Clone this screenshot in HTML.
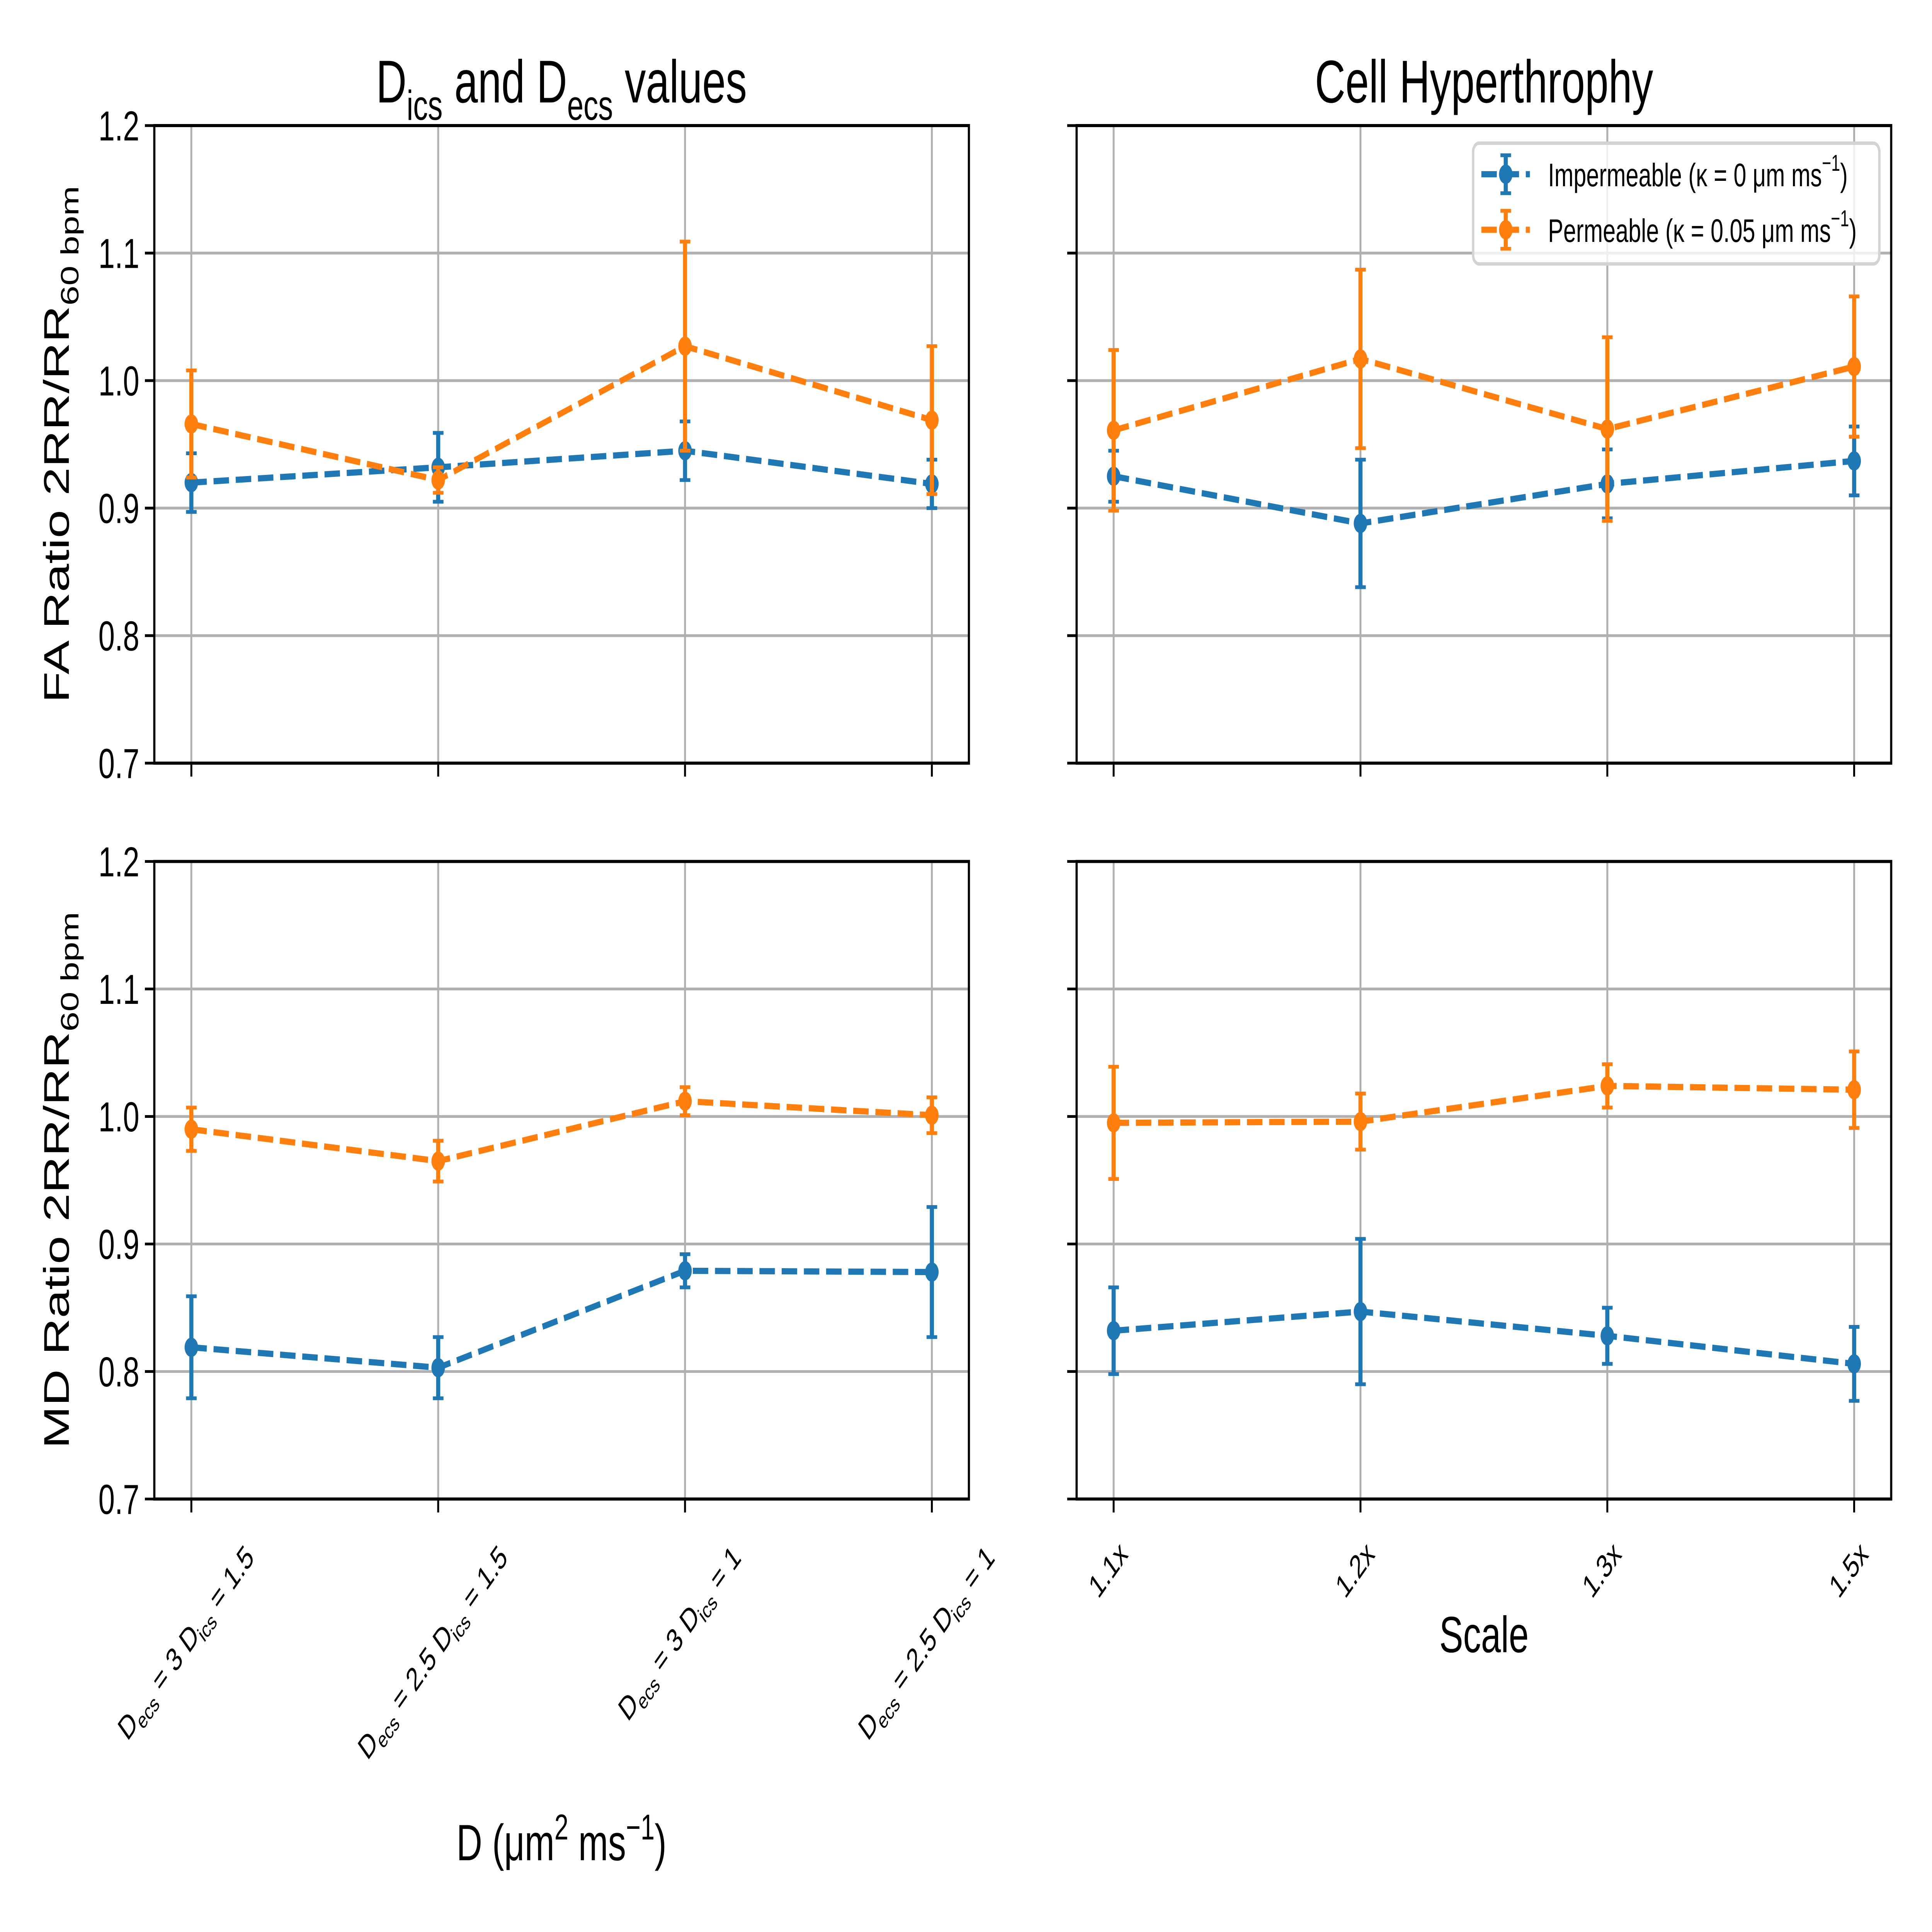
<!DOCTYPE html>
<html><head><meta charset="utf-8"><style>
html,body{margin:0;padding:0;background:#fff;overflow:hidden;width:100vw;height:100vh;}
svg{display:block;width:100vw;height:100vh;font-family:"Liberation Sans","DejaVu Sans",sans-serif;}
</style></head><body>
<svg id="fig" xmlns="http://www.w3.org/2000/svg" viewBox="0 0 8000 5600" preserveAspectRatio="none">
<rect x="0" y="0" width="8000" height="5600" fill="#fff"/>
<text x="2325" y="297" font-size="175" text-anchor="middle">D<tspan font-size="122" dy="50">ics</tspan><tspan dy="-50"> and D</tspan><tspan font-size="122" dy="50">ecs</tspan><tspan dy="-50"> values</tspan></text>
<text x="6145" y="297" font-size="175" text-anchor="middle">Cell Hyperthrophy</text>
<text transform="translate(285,1288) rotate(-90)" font-size="148" text-anchor="middle">FA Ratio 2RR/RR<tspan font-size="104" dy="40">60 bpm</tspan></text>
<text transform="translate(285,3421) rotate(-90)" font-size="148" text-anchor="middle">MD Ratio 2RR/RR<tspan font-size="104" dy="40">60 bpm</tspan></text>
<text x="2325" y="5392" font-size="148" text-anchor="middle">D (μm<tspan font-size="104" dy="-60">2</tspan><tspan dy="60"> ms</tspan><tspan font-size="104" dy="-60">−1</tspan><tspan dy="60">)</tspan></text>
<text x="6145" y="4789" font-size="148" text-anchor="middle">Scale</text>
<g id="plots"></g>
<g id="legend"></g>
</svg>
<script>
const catsLeft = ["D_ecs = 3 D_ics = 1.5","D_ecs = 2.5 D_ics = 1.5","D_ecs = 3 D_ics = 1","D_ecs = 2.5 D_ics = 1"];
const catsRight = ["1.1x","1.2x","1.3x","1.5x"];
const yTicks = [0.7,0.8,0.9,1.0,1.1,1.2];
const yTickLabels = ["0.7","0.8","0.9","1.0","1.1","1.2"];
const faDBlue = [0.920,0.932,0.945,0.919];
const faDBlueErr = [0.023,0.027,0.023,0.019];
const faDOrange = [0.966,0.922,1.027,0.969];
const faDOrangeErr = [0.042,0.010,0.082,0.058];
const faSBlue = [0.925,0.888,0.919,0.937];
const faSBlueErr = [0.020,0.050,0.027,0.027];
const faSOrange = [0.961,1.017,0.962,1.011];
const faSOrangeErr = [0.063,0.070,0.072,0.055];
const mdDBlue = [0.819,0.803,0.879,0.878];
const mdDBlueErr = [0.040,0.024,0.013,0.051];
const mdDOrange = [0.990,0.965,1.012,1.001];
const mdDOrangeErr = [0.017,0.016,0.011,0.014];
const mdSBlue = [0.832,0.847,0.828,0.806];
const mdSBlueErr = [0.034,0.057,0.022,0.029];
const mdSOrange = [0.995,0.996,1.024,1.021];
const mdSOrangeErr = [0.044,0.022,0.017,0.030];

const NS="http://www.w3.org/2000/svg";
const BLUE="#1f77b4", ORANGE="#ff7f0e";
function mk(tag, attrs, parent){const e=document.createElementNS(NS,tag);for(const k in attrs)e.setAttribute(k,attrs[k]);parent.appendChild(e);return e;}
const plots=document.getElementById('plots');

const panels=[
 {name:'fa-dics',x0:639,y0:364,blue:faDBlue,be:faDBlueErr,orange:faDOrange,oe:faDOrangeErr,cats:catsLeft,ylab:true,xlab:false,rot:'left'},
 {name:'fa-scale',x0:4458,y0:364,blue:faSBlue,be:faSBlueErr,orange:faSOrange,oe:faSOrangeErr,cats:catsRight,ylab:false,xlab:false,rot:'right'},
 {name:'md-dics',x0:639,y0:2497,blue:mdDBlue,be:mdDBlueErr,orange:mdDOrange,oe:mdDOrangeErr,cats:catsLeft,ylab:true,xlab:true,rot:'left'},
 {name:'md-scale',x0:4458,y0:2497,blue:mdSBlue,be:mdSBlueErr,orange:mdSOrange,oe:mdSOrangeErr,cats:catsRight,ylab:false,xlab:true,rot:'right'}
];
const W=3373,H=1848;
panels.forEach(p=>{
  const g=mk('g',{},plots);
  
  
  const xs=i=>p.x0+(i+0.15)/3.3*W;
  const ys=v=>p.y0+H-(v-0.7)/0.5*H;
  yTicks.forEach((t,i)=>{
    const l=mk('line',{x1:p.x0,x2:p.x0+W,y1:ys(t),y2:ys(t),stroke:'#b0b0b0','stroke-width':8},g);
    
    
    mk('line',{x1:p.x0-39,x2:p.x0,y1:ys(t),y2:ys(t),stroke:'#000','stroke-width':8},g);
    if(p.ylab){
      const tx=mk('text',{x:p.x0-62,y:ys(t)+43,'font-size':122,'text-anchor':'end'},g);
      tx.textContent=yTickLabels[i];
      
      
    }
  });
  p.cats.forEach((c,i)=>{
    const l=mk('line',{x1:xs(i),x2:xs(i),y1:p.y0,y2:p.y0+H,stroke:'#b0b0b0','stroke-width':8},g);
    
    
    mk('line',{x1:xs(i),x2:xs(i),y1:p.y0+H,y2:p.y0+H+39,stroke:'#000','stroke-width':8},g);
  });
  [[p.blue,p.be,BLUE,'impermeable'],[p.orange,p.oe,ORANGE,'permeable']].forEach(([vals,errs,col,nm])=>{
    const sg=mk('g',{},g);
    
    
    const pts=vals.map((v,i)=>xs(i)+','+ys(v)).join(' ');
    mk('polyline',{points:pts,fill:'none',stroke:col,'stroke-width':18,'stroke-dasharray':'64 28'},sg);
    vals.forEach((v,i)=>{
      const x=xs(i);
      mk('line',{x1:x,x2:x,y1:ys(v-errs[i]),y2:ys(v+errs[i]),stroke:col,'stroke-width':17},sg);
      mk('line',{x1:x-22,x2:x+22,y1:ys(v-errs[i]),y2:ys(v-errs[i]),stroke:col,'stroke-width':11},sg);
      mk('line',{x1:x-22,x2:x+22,y1:ys(v+errs[i]),y2:ys(v+errs[i]),stroke:col,'stroke-width':11},sg);
      const c=mk('circle',{cx:x,cy:ys(v),r:28,fill:col},sg);
      
      
    });
  });
  const fr=mk('rect',{x:p.x0,y:p.y0,width:W,height:H,fill:'none',stroke:'#000','stroke-width':9},g);
  
  
  if(p.xlab){
    p.cats.forEach((c,i)=>{
      const t=mk('text',{'font-size':95,'text-anchor':'middle'},g);
      
      
      if(p.rot==='left'){
        const m=c.match(/D_ecs = ([\d.]+) D_ics = ([\d.]+)/);
        t.innerHTML='D<tspan font-size="66" dy="22">ecs</tspan><tspan dy="-22"> = '+m[1]+' D</tspan><tspan font-size="66" dy="22">ics</tspan><tspan dy="-22"> = '+m[2]+'</tspan>';
      } else t.textContent=c;
      t.setAttribute('x',0);t.setAttribute('y',0);
      const bb=t.getBBox();
      const hgt=(bb.width+bb.height)/Math.SQRT2;
      const top=p.y0+H+95;
      const cy=top+hgt/2;
      t.setAttribute('transform','translate('+xs(i)+','+(cy+bb.height*0.3)+') rotate(-45)');
    });
  }
});
const lg=document.getElementById('legend');
mk('rect',{x:6100,y:415,width:1682,height:350,rx:25,fill:'#fff','fill-opacity':0.8,stroke:'#d3d3d3','stroke-width':10},lg);
[[BLUE,505,'Impermeable (κ = 0 μm ms','legend-entry-impermeable'],[ORANGE,666,'Permeable (κ = 0.05 μm ms','legend-entry-permeable']].forEach(([col,y,txt,nm])=>{
  const e=mk('g',{},lg);
  
  
  mk('line',{x1:6134,x2:6335,y1:y,y2:y,stroke:col,'stroke-width':18,'stroke-dasharray':'64 28'},e);
  mk('line',{x1:6235,x2:6235,y1:y-55,y2:y+55,stroke:col,'stroke-width':17},e);
  mk('line',{x1:6213,x2:6257,y1:y-55,y2:y-55,stroke:col,'stroke-width':11},e);
  mk('line',{x1:6213,x2:6257,y1:y+55,y2:y+55,stroke:col,'stroke-width':11},e);
  mk('circle',{cx:6235,cy:y,r:28,fill:col},e);
  const t=mk('text',{x:6410,y:y+35,'font-size':95},e);
  t.innerHTML=txt+'<tspan font-size="66" dy="-45">−1</tspan><tspan dy="45">)</tspan>';
});
</script>
</body></html>
